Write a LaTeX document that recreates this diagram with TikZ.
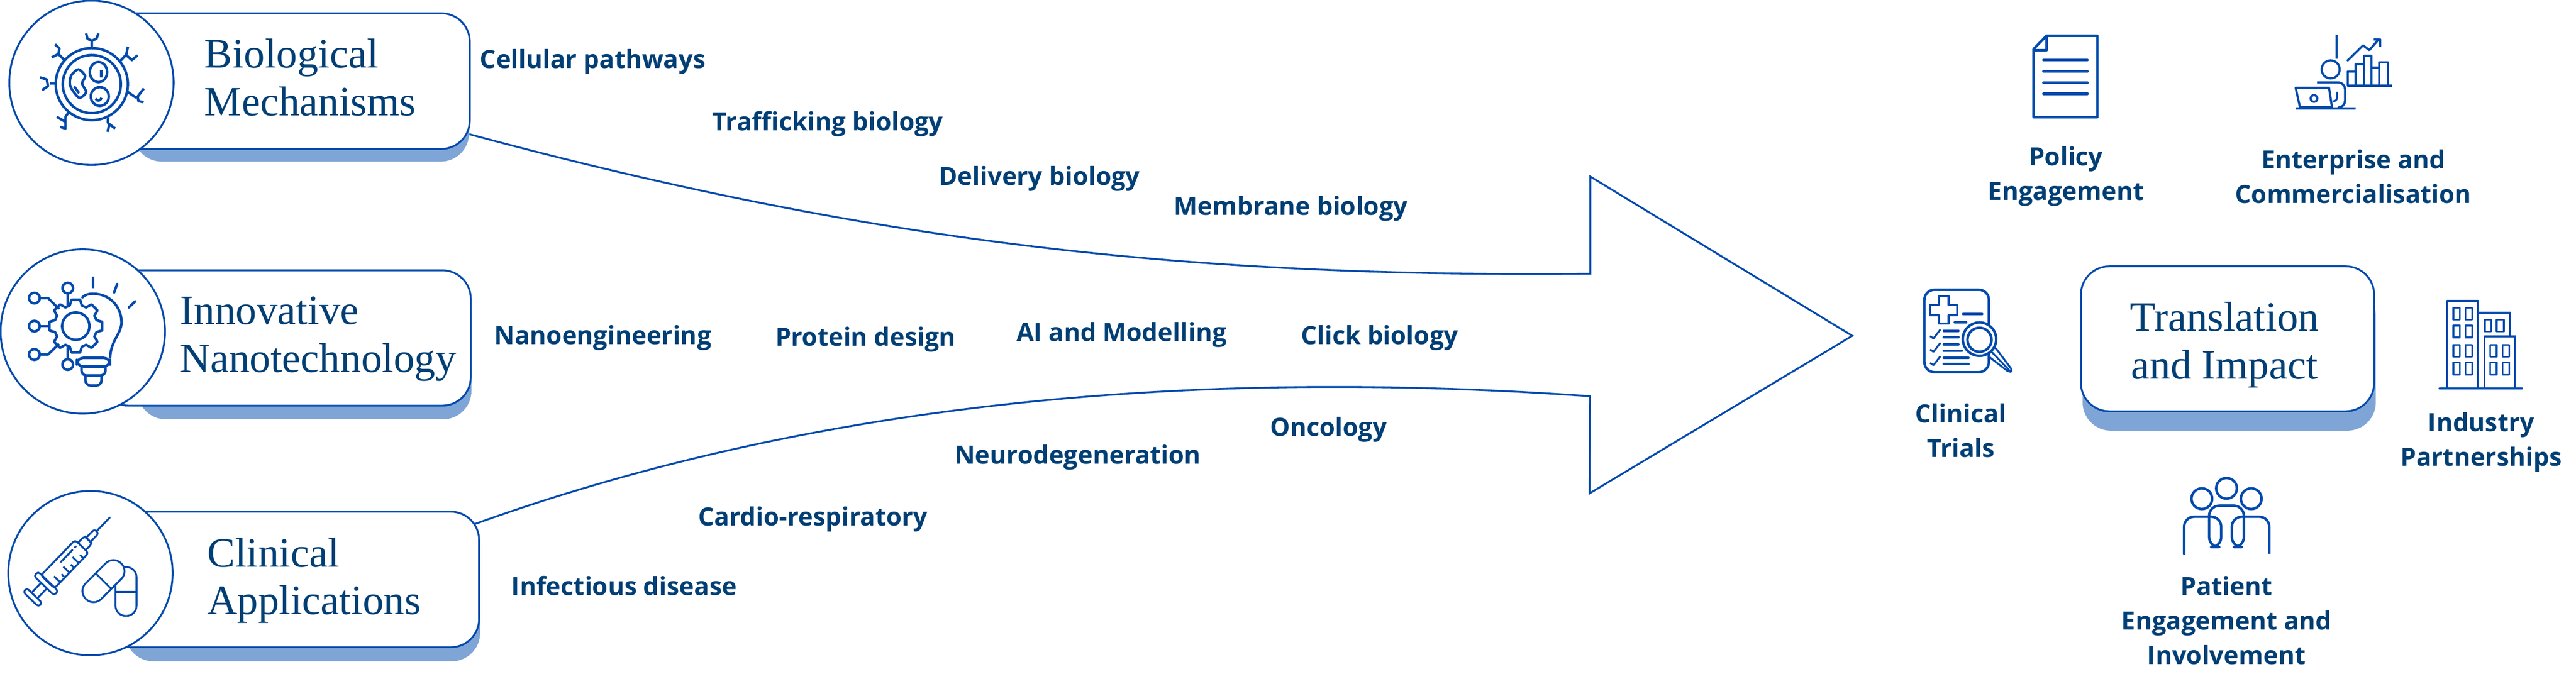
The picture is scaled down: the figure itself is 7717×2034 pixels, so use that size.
\documentclass[tikz,border=0pt]{standalone}
\usepackage{fontspec}
\setmainfont{Open Sans}
\newfontfamily\titlefont{Liberation Serif}
\usepackage{xcolor}
\definecolor{lineblue}{HTML}{004AAD}
\definecolor{inkblue}{HTML}{003F75}
\definecolor{shadeblue}{HTML}{7FA5D6}

\begin{document}
\begin{tikzpicture}[
    x=0.01cm, y=-0.01cm,
    iconline/.style={draw=lineblue, line width=.75mm, line join=round},
    ring/.style={circle, draw=lineblue, line width=.55mm, fill=white,
        minimum size=49.2mm, inner sep=0pt},
    titlebox/.style={draw=lineblue, line width=.55mm, fill=white,
        rounded corners=8.5mm, inner sep=0pt},
    shadebox/.style={fill=shadeblue, rounded corners=8.5mm, inner sep=0pt},
    title/.style={font=\titlefont\fontsize{35.6}{40.7}\selectfont, text=inkblue,
        inner sep=0pt},
    label/.style={font=\bfseries\fontsize{21.4}{29.3}\selectfont, text=inkblue,
        inner sep=0pt, align=center}]
    \useasboundingbox (0,0) rectangle (7717,2034);

    % big arrow
    \coordinate (upperstart) at (1406,402);
    \coordinate (lowerstart) at (1422,1570);
    \coordinate (shafttop) at (4764,820);
    \coordinate (headtop) at (4764,529);
    \coordinate (headtip) at (5549,1006);
    \coordinate (headbot) at (4762,1478);
    \coordinate (shaftbot) at (4763,1187);
    \draw[draw=lineblue, line width=.55mm, line join=miter]
        (upperstart) .. controls (2606,726) and (3563,832) .. (shafttop)
        -- (headtop) -- (headtip) -- (headbot) -- (shaftbot)
        .. controls (3676,1110) and (2509,1179) .. (lowerstart);

    % left boxes
    \node[shadebox, minimum width=100.5mm, minimum height=38.4mm] (bioshade) at (902.5,292) {};
    \node[titlebox, minimum width=110.7mm, minimum height=40.6mm] (biobox) at (853.5,243) {};
    \node[ring] (biocircle) at (274,248) {};
    \node[shadebox, minimum width=100mm, minimum height=39.6mm] (nanoshade) at (912,1058) {};
    \node[titlebox, minimum width=111mm, minimum height=40.5mm] (nanobox) at (855,1012.5) {};
    \node[ring] (nanocircle) at (248,993) {};
    \node[shadebox, minimum width=106.3mm, minimum height=40.1mm] (clinshade) at (906.5,1780.5) {};
    \node[titlebox, minimum width=113.5mm, minimum height=40.6mm] (clinbox) at (867.5,1736) {};
    \node[ring] (clincircle) at (271,1717) {};

    \node[title, anchor=base west, align=left] (biotitle) at (612,346) {Biological\\Mechanisms};
    \node[title, anchor=base west, align=left] (nanotitle) at (539,1115) {Innovative\\Nanotechnology};
    \node[title, anchor=base west, align=left] (clintitle) at (620,1841) {Clinical\\Applications};

    % right box
    \node[shadebox, minimum width=87.8mm, minimum height=43mm] (transshade) at (6678,1075) {};
    \node[titlebox, minimum width=87.8mm, minimum height=43.4mm] (transbox) at (6673,1015) {};
    \node[title, anchor=base, align=center] (transtitle) at (6664,1135) {Translation\\and Impact};

    % themes along the arrow
    \node[label, anchor=base] (cellular) at (1776,205) {Cellular pathways};
    \node[label, anchor=base] (trafficking) at (2480,392) {Trafficking biology};
    \node[label, anchor=base] (delivery) at (3114,555) {Delivery biology};
    \node[label, anchor=base] (membrane) at (3867,644) {Membrane biology};
    \node[label, anchor=base] (nanoeng) at (1806,1032) {Nanoengineering};
    \node[label, anchor=base] (protein) at (2593,1037) {Protein design};
    \node[label, anchor=base] (aimodel) at (3360,1022) {AI and Modelling};
    \node[label, anchor=base] (click) at (4133,1032) {Click biology};
    \node[label, anchor=base] (oncology) at (3980,1307) {Oncology};
    \node[label, anchor=base] (neuro) at (3229,1390) {Neurodegeneration};
    \node[label, anchor=base] (cardio) at (2435,1575) {Cardio-respiratory};
    \node[label, anchor=base] (infect) at (1870,1784) {Infectious disease};

    \node[label, anchor=base] (policy) at (6189,600) {Policy\\Engagement};
    \node[label, anchor=base] (enterprise) at (7050,609) {Enterprise and\\Commercialisation};
    \node[label, anchor=base] (trials) at (5874,1370) {Clinical\\Trials};
    \node[label, anchor=base] (industry) at (7433,1396) {Industry\\Partnerships};
    \node[label, anchor=base] (patient) at (6670,1990) {Patient\\Engagement and\\Involvement};

    % cell icon
    \draw[iconline] (275,252) circle (108) (275,252) circle (87);
    \draw[iconline] (295,216) ellipse (26 and 30) (299,289) ellipse (27 and 28);
    \draw[iconline] plot[smooth cycle] coordinates {(235,208) (255,228) (246,250) (258,276) (238,293) (217,270) (209,250) (214,225)};
    \draw[iconline] (303,210) -- (303,232) (222,259) -- (237,279) (287,295) .. controls (291,305) and (300,303) .. (304,293);
    \draw[iconline] (275,144) -- (275,120) (258,100) -- (262,116) -- (275,122) -- (289,116) -- (295,100);
    \draw[iconline] (360,183) -- (377,165) (383,140) -- (378,165) -- (395,180) -- (412,166);
    \draw[iconline] (382,275) -- (408,293) (431,265) -- (412,290) -- (415,303) -- (430,306);
    \draw[iconline] (324,353) -- (323,366) -- (330,380) (322,395) -- (328,372) -- (345,385);
    \draw[iconline] (207,335) -- (196,350) -- (196,385) -- (180,380);
    \draw[iconline] (170,350) -- (196,365);
    \draw[iconline] (165,250) -- (150,250) (120,232) -- (140,238) -- (144,258) -- (126,270);
    \draw[iconline] (193,180) -- (175,162) -- (178,145) -- (165,133) (175,162) -- (155,172);

    % bulb icon
    \begin{scope}[shift={(227,977)}]
        \draw[iconline] (62,-18) -- (79,-13) -- (79,13) -- (62,18)
            -- (56,31) -- (65,47) -- (47,65) -- (31,56)
            -- (18,62) -- (13,79) -- (-13,79) -- (-18,62)
            -- (-31,56) -- (-47,65) -- (-65,47) -- (-56,31)
            -- (-62,18) -- (-79,13) -- (-79,-13) -- (-62,-18)
            -- (-56,-31) -- (-65,-47) -- (-47,-65) -- (-31,-56)
            -- (-18,-62) -- (-13,-79) -- (13,-79) -- (18,-62)
            -- (31,-56) -- (47,-65) -- (65,-47) -- (56,-31) -- cycle;
        \draw[iconline] (0,0) circle (41);
    \end{scope}
    \draw[iconline] (203,863) circle (16) (103,893) circle (16) (103,977) circle (16) (103,1062) circle (16) (203,1092) circle (16);
    \draw[iconline] (203,879) -- (203,918) (203,1076) -- (203,1037) (119,977) -- (148,977);
    \draw[iconline] (119,893) -- (144,893) -- (177,926) (119,1062) -- (144,1062) -- (177,1030);
    \draw[iconline, line cap=round] (247,891) .. controls (255,882) and (268,880) .. (278,880)
        .. controls (330,880) and (364,920) .. (364,965)
        .. controls (364,1000) and (332,1020) .. (330,1070);
    \draw[iconline, rounded corners=2mm] (230,1072) -- (330,1072) -- (330,1098) -- (230,1098) -- cycle;
    \draw[iconline, rounded corners=1.5mm] (244,1098) -- (244,1125) -- (316,1125) -- (316,1098);
    \draw[iconline, rounded corners=1.5mm] (256,1125) -- (256,1155) -- (304,1155) -- (304,1125);
    \draw[iconline, line cap=round] (279,832) -- (279,860) (351,851) -- (342,876) (405,903) -- (386,921);

    % syringe icon
    \begin{scope}[shift={(143,1743)}, rotate=46]
        \draw[iconline, line width=.55mm, rounded corners=.8mm] (0,-28) rectangle (147,28);
        \draw[iconline, line width=.55mm, rounded corners=.8mm] (-16,-42) rectangle (2,42);
        \draw[iconline, line width=.55mm, rounded corners=.8mm] (-73,-32) rectangle (-57,32);
        \draw[iconline, line width=.55mm] (-57,-12) -- (-16,-12) (-57,12) -- (-16,12);
        \draw[iconline, line width=.55mm, rounded corners=.8mm] (147,-16) -- (175,-16) -- (175,16) -- (147,16);
        \draw[iconline, line width=.55mm] (175,-16) -- (175,16);
        \draw[iconline, line width=.55mm, rounded corners=.8mm] (175,-9) -- (211,-9) -- (211,9) -- (175,9);
        \draw[iconline, line width=.55mm, line cap=round] (211,0) -- (268,0);
        \draw[iconline, line width=.55mm, line cap=round] (70,-13) -- (120,-13) (130,-13) -- (135,-13);
        \draw[iconline, line width=.55mm] (25,28) -- (25,2) (45,28) -- (45,14) (65,28) -- (65,2)
            (85,28) -- (85,14) (105,28) -- (105,2) (125,28) -- (125,14);
    \end{scope}
    \draw[iconline, line width=.55mm, rounded corners=3mm] (346,1699) rectangle (409,1845);
    \draw[iconline, line width=.55mm] (346,1773) -- (409,1773);
    \begin{scope}[shift={(310,1741)}, rotate=45]
        \draw[iconline, line width=.55mm, fill=white, rounded corners=3.2mm] (-75,-33) rectangle (75,33);
        \draw[iconline, line width=.55mm] (0,-33) -- (0,33);
    \end{scope}

    % document icon
    \draw[iconline] (6131,107) -- (6283,107) -- (6283,351) -- (6092,351) -- (6092,147) -- cycle;
    \draw[iconline] (6131,107) -- (6131,150) -- (6092,150);
    \draw[iconline, line width=.85mm, line cap=round] (6122,180) -- (6253,180) (6122,214) -- (6253,214)
        (6122,248) -- (6253,248) (6122,281) -- (6253,281);

    % enterprise icon
    \draw[iconline, line width=.65mm] (6982,208) circle (27) (7000,105) -- (7000,176);
    \draw[iconline, line width=.65mm] (7031,183) -- (7079,136) -- (7098,150) -- (7124,120) (7111,118) -- (7130,118) -- (7130,140);
    \draw[iconline, line width=.65mm] (7031,257) -- (7166,257);
    \draw[iconline, line width=.65mm] (7033,257) -- (7033,214) -- (7057,214) -- (7057,192) -- (7082,192)
        (7057,214) -- (7057,257) (7082,257) -- (7082,167) -- (7104,167) -- (7104,257)
        (7104,203) -- (7127,203) (7127,257) -- (7127,187) -- (7153,187) -- (7153,257);
    \draw[iconline, line width=.65mm, fill=white] (6877,263) -- (6977,263) -- (6986,321) -- (6890,321) -- cycle;
    \draw[iconline, line width=.65mm] (6877,325) -- (7057,325) (6932,295) circle (10);
    \draw[iconline, line width=.65mm, rounded corners=2mm] (6941,247) -- (7025,247) -- (7025,322) -- (7005,322);
    \draw[iconline, line width=.55mm, rounded corners=1mm] (7001,275) -- (7001,303) -- (6993,303);

    % clinical trials icon
    \draw[iconline, rounded corners=3mm] (5765,868) rectangle (5958,1115);
    \draw[iconline, line width=.65mm] (5808,888) -- (5838,888) -- (5838,914) -- (5863,914) -- (5863,944)
        -- (5838,944) -- (5838,969) -- (5808,969) -- (5808,944) -- (5782,944) -- (5782,914) -- (5808,914) -- cycle;
    \draw[iconline, line cap=round] (5881,941) -- (5938,941) (5856,966) -- (5890,966);
    \draw[iconline, line width=.55mm] (5782,1007) -- (5792,1014) -- (5813,987) (5782,1047) -- (5792,1054) -- (5813,1027)
        (5782,1087) -- (5792,1094) -- (5813,1067);
    \draw[iconline, line cap=round] (5823,991) -- (5867,991) (5823,1010) -- (5867,1010) (5823,1032) -- (5867,1032)
        (5823,1051) -- (5877,1051) (5823,1072) -- (5897,1072) (5823,1091) -- (5897,1091);
    \draw[iconline, line width=.55mm, fill=white, rounded corners=.8mm] (5975,1038) -- (6029,1110) -- (6020,1116) -- (5955,1066) -- cycle;
    \draw[iconline, line width=.55mm] (5967,1055) -- (6022,1112);
    \draw[iconline, fill=white] (5930,1016) circle (50);
    \draw[iconline] (5930,1018) circle (36);

    % industry icon
    \draw[iconline, line width=.6mm, line cap=round] (7308,1164) -- (7555,1164);
    \draw[iconline, line width=.6mm] (7331,1164) -- (7331,902) -- (7423,902) -- (7423,1164);
    \draw[iconline, line width=.6mm] (7423,937) -- (7520,937) -- (7520,1008);
    \draw[iconline, line width=.6mm] (7443,1164) -- (7443,1008) -- (7535,1008) -- (7535,1164);
    \draw[iconline, line width=.55mm] (7350,922) rectangle (7369,958) (7386,922) rectangle (7406,958)
        (7350,975) rectangle (7369,1011) (7386,975) rectangle (7406,1011)
        (7350,1033) rectangle (7369,1069) (7386,1033) rectangle (7406,1069)
        (7350,1086) rectangle (7369,1123) (7386,1086) rectangle (7406,1123)
        (7444,958) rectangle (7463,993) (7479,958) rectangle (7501,993)
        (7460,1033) rectangle (7479,1069) (7497,1033) rectangle (7517,1069)
        (7460,1086) rectangle (7479,1123) (7497,1086) rectangle (7517,1123);

    % patient icon
    \draw[iconline] (6670,1463) circle (31) (6596,1494) circle (31) (6744,1494) circle (31);
    \draw[iconline, rounded corners=3mm, line cap=round] (6543,1659) -- (6543,1548) -- (6654,1548) -- (6654,1639) -- (6618,1639) -- (6618,1560);
    \draw[iconline, rounded corners=3mm] (6618,1560) -- (6618,1515) -- (6722,1515) -- (6722,1639) -- (6686,1639) -- (6686,1548) -- (6798,1548) -- (6798,1659);
\end{tikzpicture}
\end{document}
